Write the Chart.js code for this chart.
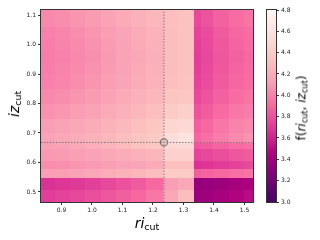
<!DOCTYPE html>
<html>
<head>
<meta charset="utf-8">
<script src="https://cdn.jsdelivr.net/npm/chart.js@4"></script>
<style>
  html, body { margin: 0; padding: 0; background: #fff; }
  #wrap { position: relative; width: 320px; height: 240px; overflow: hidden; }
  canvas { position: absolute; left: 0; top: 0; }
  .lbl { position: absolute; white-space: nowrap; font-family: 'DejaVu Sans'; color: #000; line-height: 1; }
  .lbl i { font-style: italic; }
  .lbl sub { font-style: normal; font-size: 0.68em; vertical-align: -0.25em; }
</style>
</head>
<body>
<div id="wrap">
  <canvas id="map" width="320" height="240"></canvas>
  <canvas id="bar" width="320" height="240"></canvas>
  <div class="lbl" style="left:147px; top:224px; font-size:14px; transform:translate(-50%,-50%);"><i>ri</i><sub>cut</sub></div>
  <div class="lbl" style="left:15px; top:104px; font-size:14px; transform:translate(-50%,-50%) rotate(-90deg);"><i>iz</i><sub>cut</sub></div>
  <div class="lbl" style="left:302px; top:108px; font-size:12px; transform:translate(-50%,-50%) rotate(-90deg);">f(<i>ri</i><sub>cut</sub>, <i>iz</i><sub>cut</sub>)</div>
</div>
<script>
// cell edges in data units (ri_cut across, iz_cut up)
const xEdges = [0.833, 0.88, 0.93, 0.98, 1.03, 1.08, 1.13, 1.18, 1.235, 1.285, 1.335, 1.36, 1.40, 1.45, 1.50, 1.528];
const yEdges = [0.466, 0.51, 0.55, 0.58, 0.608, 0.648, 0.669, 0.70, 0.75, 0.80, 0.85, 0.90, 0.94, 0.98, 1.02, 1.06, 1.117];

// tick labels
const xTicks = [0.9, 1.0, 1.1, 1.2, 1.3, 1.4, 1.5];
const yTicks = [0.5, 0.6, 0.7, 0.8, 0.9, 1.0, 1.1];
const cbTicks = [3.0, 3.2, 3.4, 3.6, 3.8, 4.0, 4.2, 4.4, 4.6, 4.8];

// f values, one row per iz band, bottom to top
const z00 = [3.72, 3.74, 3.76, 3.79, 3.82, 3.86, 3.90, 3.96, 4.18, 4.30, 3.36, 3.38, 3.42, 3.46, 3.50];
const z01 = [3.66, 3.68, 3.70, 3.73, 3.76, 3.80, 3.84, 3.90, 4.12, 4.18, 3.33, 3.35, 3.38, 3.42, 3.45];
const z02 = [4.12, 4.13, 4.15, 4.17, 4.20, 4.23, 4.26, 4.30, 4.40, 4.40, 3.86, 3.88, 3.90, 3.93, 3.95];
const z03 = [4.05, 4.06, 4.08, 4.10, 4.12, 4.14, 4.16, 4.19, 4.32, 4.32, 3.66, 3.68, 3.71, 3.74, 3.77];
const z04 = [4.10, 4.11, 4.13, 4.15, 4.17, 4.20, 4.23, 4.26, 4.45, 4.45, 3.74, 3.76, 3.79, 3.82, 3.85];
const z05 = [4.13, 4.15, 4.18, 4.21, 4.25, 4.29, 4.33, 4.37, 4.50, 4.52, 3.82, 3.85, 3.88, 3.91, 3.93];
const z06 = [4.15, 4.17, 4.20, 4.23, 4.27, 4.31, 4.35, 4.39, 4.55, 4.60, 3.89, 3.93, 3.99, 4.04, 4.07];
const z07 = [4.12, 4.14, 4.17, 4.20, 4.24, 4.28, 4.32, 4.36, 4.48, 4.52, 3.86, 3.90, 3.96, 4.01, 4.04];
const z08 = [4.07, 4.09, 4.12, 4.15, 4.19, 4.23, 4.27, 4.31, 4.40, 4.43, 3.81, 3.85, 3.91, 3.96, 3.99];
const z09 = [4.03, 4.05, 4.08, 4.11, 4.15, 4.19, 4.23, 4.27, 4.35, 4.37, 3.77, 3.81, 3.87, 3.92, 3.95];
const z10 = [4.00, 4.02, 4.05, 4.08, 4.12, 4.16, 4.20, 4.24, 4.31, 4.34, 3.74, 3.78, 3.84, 3.89, 3.92];
const z11 = [3.99, 4.01, 4.04, 4.07, 4.11, 4.15, 4.19, 4.23, 4.30, 4.33, 3.73, 3.77, 3.83, 3.88, 3.91];
const z12 = [3.98, 4.00, 4.03, 4.06, 4.10, 4.14, 4.18, 4.22, 4.30, 4.33, 3.72, 3.76, 3.82, 3.87, 3.90];
const z13 = [3.99, 4.01, 4.04, 4.07, 4.11, 4.15, 4.19, 4.23, 4.30, 4.33, 3.73, 3.77, 3.83, 3.88, 3.91];
const z14 = [4.00, 4.02, 4.05, 4.08, 4.12, 4.16, 4.20, 4.24, 4.30, 4.33, 3.74, 3.78, 3.84, 3.89, 3.92];
const z15 = [4.03, 4.05, 4.08, 4.11, 4.15, 4.19, 4.23, 4.27, 4.31, 4.33, 3.77, 3.81, 3.87, 3.92, 3.95];
const zRows = [z00, z01, z02, z03, z04, z05, z06, z07, z08, z09, z10, z11, z12, z13, z14, z15];

// best point (crosshair)
const bestRi = 1.236;
const bestIz = 0.668;

const zMin = 3.0, zMax = 4.8;
const xMin = 0.833, xMax = 1.528;
const yMin = 0.466, yMax = 1.117;

// RdPu reversed
const stops = ['#49006a', '#7a0177', '#ae017e', '#dd3497', '#f768a1', '#fa9fb5', '#fcc5c0', '#fde0dd', '#fff7f3'];
const hex = h => [1, 3, 5].map(i => parseInt(h.slice(i, i + 2), 16));
const cmap = v => {
  let t = (v - zMin) / (zMax - zMin);
  t = Math.max(0, Math.min(1, t)) * (stops.length - 1);
  const i = Math.min(Math.floor(t), stops.length - 2), f = t - i;
  const a = hex(stops[i]), b = hex(stops[i + 1]);
  const c = a.map((u, k) => Math.round(u + (b[k] - u) * f));
  return `rgb(${c[0]},${c[1]},${c[2]})`;
};

Chart.defaults.font.family = 'DejaVu Sans';
Chart.defaults.font.size = 6;
Chart.defaults.color = '#222';

const frame = {
  id: 'frame',
  afterDraw(chart) {
    const { ctx, chartArea: a } = chart;
    ctx.save();
    ctx.strokeStyle = '#333';
    ctx.lineWidth = 1;
    ctx.strokeRect(Math.round(a.left) - 0.5, Math.round(a.top) - 0.5, Math.round(a.width) + 1, Math.round(a.height) + 1);
    ctx.restore();
  }
};

const heatmap = {
  id: 'heatmap',
  beforeDatasetsDraw(chart) {
    const { ctx, chartArea: a, scales: { x, y } } = chart;
    ctx.save();
    ctx.beginPath();
    ctx.rect(a.left, a.top, a.width, a.height);
    ctx.clip();
    zRows.forEach((row, j) => {
      const yb = y.getPixelForValue(yEdges[j]), yt = y.getPixelForValue(yEdges[j + 1]);
      row.forEach((v, i) => {
        const xl = x.getPixelForValue(xEdges[i]), xr = x.getPixelForValue(xEdges[i + 1]);
        ctx.fillStyle = cmap(v);
        ctx.fillRect(Math.floor(xl), Math.floor(yt), Math.ceil(xr) - Math.floor(xl), Math.ceil(yb) - Math.floor(yt));
      });
    });
    ctx.restore();
  }
};

const axisGrid = { drawOnChartArea: false, tickLength: 3, color: '#333' };
const fixedTicks = list => s => { s.ticks = list.map(v => ({ value: v })); };

new Chart(document.getElementById('map'), {
  type: 'scatter',
  data: {
    datasets: [
      {
        type: 'line',
        data: [{ x: bestRi, y: yMin }, { x: bestRi, y: yMax }],
        borderColor: '#777', borderWidth: 1, borderDash: [1.5, 1.5], pointRadius: 0
      },
      {
        type: 'line',
        data: [{ x: xMin, y: bestIz }, { x: xMax, y: bestIz }],
        borderColor: '#777', borderWidth: 1, borderDash: [1.5, 1.5], pointRadius: 0
      },
      {
        data: [{ x: bestRi, y: bestIz }],
        pointRadius: 3.5, borderWidth: 1.3, borderColor: '#777', backgroundColor: 'rgba(0,0,0,0)'
      }
    ]
  },
  options: {
    responsive: false,
    animation: false,
    devicePixelRatio: 1,
    layout: { padding: { top: 10, right: 67, bottom: 0, left: 0 } },
    plugins: { legend: { display: false }, tooltip: { enabled: false } },
    scales: {
      x: {
        type: 'linear', min: xMin, max: xMax,
        grid: axisGrid, border: { display: false },
        afterBuildTicks: fixedTicks(xTicks),
        ticks: { autoSkip: false, maxRotation: 0, padding: 2, callback: v => v.toFixed(1) },
        afterFit: s => { s.height = 38; }
      },
      y: {
        type: 'linear', min: yMin, max: yMax,
        grid: axisGrid, border: { display: false },
        afterBuildTicks: fixedTicks(yTicks),
        ticks: { autoSkip: false, padding: 2, callback: v => v.toFixed(1) },
        afterFit: s => { s.width = 41; }
      }
    }
  },
  plugins: [heatmap, frame]
});

// colorbar
const gradientBar = {
  id: 'gradientBar',
  beforeDatasetsDraw(chart) {
    const { ctx, chartArea: a, scales: { y } } = chart;
    const g = ctx.createLinearGradient(0, y.getPixelForValue(zMin), 0, y.getPixelForValue(zMax));
    stops.forEach((c, i) => g.addColorStop(i / (stops.length - 1), c));
    ctx.save();
    ctx.fillStyle = g;
    ctx.fillRect(a.left, a.top, a.width, a.height);
    ctx.restore();
  }
};

new Chart(document.getElementById('bar'), {
  type: 'scatter',
  data: { datasets: [{ data: [] }] },
  options: {
    responsive: false,
    animation: false,
    devicePixelRatio: 1,
    layout: { padding: { top: 10, right: 0, bottom: 38, left: 267 } },
    plugins: { legend: { display: false }, tooltip: { enabled: false } },
    scales: {
      x: { display: false, min: 0, max: 1 },
      y: {
        position: 'right', min: zMin, max: zMax,
        grid: axisGrid, border: { display: false },
        afterBuildTicks: fixedTicks(cbTicks),
        ticks: { autoSkip: false, padding: 2, callback: v => v.toFixed(1) },
        afterFit: s => { s.width = 44; }
      }
    }
  },
  plugins: [gradientBar, frame]
});
</script>
</body>
</html>
